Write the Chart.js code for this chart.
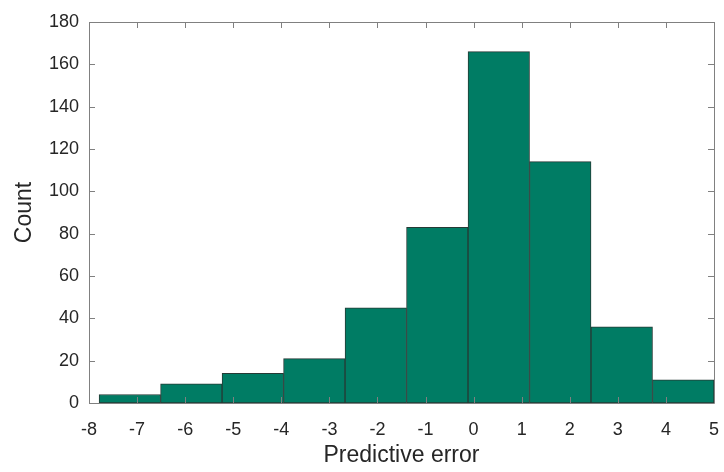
<!DOCTYPE html>
<html>
<head>
<meta charset="utf-8">
<style>
  html, body { margin: 0; padding: 0; background: #fff; }
  #wrap { width: 724px; height: 472px; }
</style>
<script src="https://cdn.jsdelivr.net/npm/chart.js@4"></script>
</head>
<body>
<div id="wrap"><canvas id="hist" width="724" height="472"></canvas></div>
<script>
// Histogram bins (bin edges) and counts
const binEdges = [-7.79, -6.511, -5.232, -3.953, -2.674, -1.395, -0.116, 1.163, 2.442, 3.721, 5.0];
const counts = [4, 9, 14, 21, 45, 83, 166, 114, 36, 11];

const xTicks = [-8, -7, -6, -5, -4, -3, -2, -1, 0, 1, 2, 3, 4, 5];
const yTicks = [0, 20, 40, 60, 80, 100, 120, 140, 160, 180];

const axisGray = '#808080';
const textColor = '#262626';
const fontFamily = '"Liberation Sans", Arial, Helvetica, sans-serif';

// one point per bin, placed at the bin centre
const points = counts.map((c, i) => ({ x: (binEdges[i] + binEdges[i + 1]) / 2, y: c }));

// MATLAB style box with inward ticks on all four sides
const boxPlugin = {
    id: 'box',
    afterDraw(chart) {
        const { ctx, chartArea: a, scales } = chart;
        const len = 6;
        ctx.save();
        ctx.strokeStyle = axisGray;
        ctx.lineWidth = 1;
        ctx.beginPath();
        ctx.rect(Math.round(a.left) + 0.5, Math.round(a.top) + 0.5,
                 Math.round(a.right - a.left), Math.round(a.bottom - a.top));
        xTicks.forEach(v => {
            const px = Math.round(scales.x.getPixelForValue(v)) + 0.5;
            ctx.moveTo(px, a.bottom);
            ctx.lineTo(px, a.bottom - len);
            ctx.moveTo(px, a.top);
            ctx.lineTo(px, a.top + len);
        });
        yTicks.forEach(v => {
            const py = Math.round(scales.y.getPixelForValue(v)) + 0.5;
            ctx.moveTo(a.left, py);
            ctx.lineTo(a.left + len, py);
            ctx.moveTo(a.right, py);
            ctx.lineTo(a.right - len, py);
        });
        ctx.stroke();
        ctx.restore();
    }
};

new Chart(document.getElementById('hist'), {
    type: 'bar',
    data: {
        datasets: [{
            data: points,
            backgroundColor: '#007c64',
            borderColor: '#263a35',
            borderWidth: 1,
            borderSkipped: false,
            barThickness: 'flex',   // bars span neighbour to neighbour, i.e. the full bin
            barPercentage: 1,
            categoryPercentage: 1
        }]
    },
    options: {
        responsive: false,
        animation: false,
        devicePixelRatio: 1,
        layout: { padding: { top: 22, right: 10, left: 0, bottom: 0 } },
        plugins: {
            legend: { display: false },
            tooltip: { enabled: false }
        },
        scales: {
            x: {
                type: 'linear',
                offset: false,
                min: -8,
                max: 5,
                grid: { display: false, drawTicks: false },
                border: { display: false },
                ticks: {
                    stepSize: 1,
                    padding: 16,
                    color: textColor,
                    font: { family: fontFamily, size: 18 }
                },
                title: {
                    display: true,
                    text: 'Predictive error',
                    color: textColor,
                    font: { family: fontFamily, size: 23 },
                    padding: { top: 0, bottom: 3 }
                },
                afterFit(scale) {
                    scale.height = 69;
                    scale.paddingLeft = 0;
                    scale.paddingRight = 0;
                }
            },
            y: {
                min: 0,
                max: 180,
                grid: { display: false, drawTicks: false },
                border: { display: false },
                ticks: {
                    stepSize: 20,
                    padding: 10,
                    color: textColor,
                    font: { family: fontFamily, size: 18 }
                },
                title: {
                    display: true,
                    text: 'Count',
                    color: textColor,
                    font: { family: fontFamily, size: 23 },
                    padding: { top: 11, bottom: 0 }
                },
                afterFit(scale) { scale.width = 89; }
            }
        }
    },
    plugins: [boxPlugin]
});
</script>
</body>
</html>
